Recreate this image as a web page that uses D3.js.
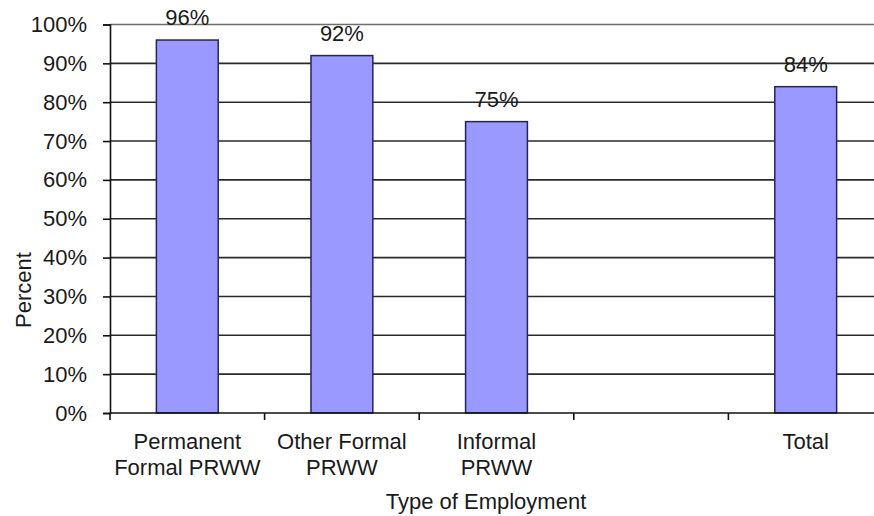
<!DOCTYPE html>
<html>
<head>
<meta charset="utf-8">
<script src="https://cdn.jsdelivr.net/npm/d3@7"></script>
<style>
  body { margin: 0; background: #fff; }
  text { font-family: "Liberation Sans", Arial, sans-serif; fill: #1a1a1a; }
</style>
</head>
<body>
<svg id="chart" width="874" height="516"></svg>
<script>
// chart values
const categories = ["Permanent Formal PRWW", "Other Formal PRWW", "Informal PRWW", "", "Total"];
const labelLines = [["Permanent", "Formal PRWW"], ["Other Formal", "PRWW"], ["Informal", "PRWW"], [], ["Total"]];
const values = [96, 92, 75, null, 84];
const yTicks = [0, 10, 20, 30, 40, 50, 60, 70, 80, 90, 100];

const svg = d3.select("#chart");
const plotL = 110, plotR = 883, plotT = 24.5, plotB = 413;
const fs = 22;

const x = d3.scaleBand().domain(categories).range([plotL, plotR]).padding(0);
const y = d3.scaleLinear().domain([0, 100]).range([plotB, plotT]);

// gridlines
svg.append("g").selectAll("line")
  .data(yTicks.filter(d => d > 0))
  .enter().append("line")
  .attr("x1", plotL).attr("x2", plotR)
  .attr("y1", d => y(d)).attr("y2", d => y(d))
  .attr("stroke", d => d === 100 ? "#6e6e6e" : "#2a2a2a")
  .attr("stroke-width", 1.6);

// bars
const bw = x.bandwidth() * 0.4;
const data = categories.map((c, i) => ({ c, v: values[i] })).filter(d => d.v != null);
svg.append("g").selectAll("rect")
  .data(data)
  .enter().append("rect")
  .attr("x", d => x(d.c) + (x.bandwidth() - bw) / 2)
  .attr("width", bw)
  .attr("y", d => y(d.v))
  .attr("height", d => y(0) - y(d.v))
  .attr("fill", "#9999ff")
  .attr("stroke", "#24245c")
  .attr("stroke-width", 1.5);

// value labels
svg.append("g").selectAll("text")
  .data(data)
  .enter().append("text")
  .attr("x", d => x(d.c) + x.bandwidth() / 2)
  .attr("y", d => y(d.v) - 15)
  .attr("text-anchor", "middle")
  .style("font-size", fs + "px")
  .text(d => d.v + "%");

// y axis
const yAxis = svg.append("g")
  .attr("transform", `translate(${plotL},0)`)
  .call(d3.axisLeft(y).tickValues(yTicks).tickFormat(d => d + "%").tickSize(7).tickPadding(16));
yAxis.select(".domain").attr("stroke", "#111").attr("stroke-width", 1.6);
yAxis.selectAll(".tick line").attr("stroke", "#111").attr("stroke-width", 1.6);
yAxis.selectAll(".tick text")
  .style("font-size", fs + "px")
  .style("font-family", "'Liberation Sans', Arial, sans-serif")
  .attr("fill", "#1a1a1a");

// x axis: ticks at band boundaries
const bounds = categories.map(c => x(c)).concat([plotR]);
svg.append("line")
  .attr("x1", plotL).attr("x2", plotR)
  .attr("y1", plotB).attr("y2", plotB)
  .attr("stroke", "#111").attr("stroke-width", 1.6);
svg.append("g").selectAll("line")
  .data(bounds)
  .enter().append("line")
  .attr("x1", d => d).attr("x2", d => d)
  .attr("y1", plotB).attr("y2", plotB + 7)
  .attr("stroke", "#111").attr("stroke-width", 1.6);

// category labels
const catG = svg.append("g").selectAll("text")
  .data(categories)
  .enter().append("text")
  .attr("text-anchor", "middle")
  .style("font-size", fs + "px");
catG.each(function(c, i) {
  d3.select(this).selectAll("tspan")
    .data(labelLines[i])
    .enter().append("tspan")
    .attr("x", x(c) + x.bandwidth() / 2)
    .attr("y", (d, j) => 449 + j * 26)
    .text(d => d);
});

// axis titles
svg.append("text")
  .attr("x", 486).attr("y", 509)
  .attr("text-anchor", "middle")
  .style("font-size", fs + "px")
  .text("Type of Employment");

svg.append("text")
  .attr("transform", "translate(31,290) rotate(-90)")
  .attr("text-anchor", "middle")
  .style("font-size", fs + "px")
  .text("Percent");
</script>
</body>
</html>
